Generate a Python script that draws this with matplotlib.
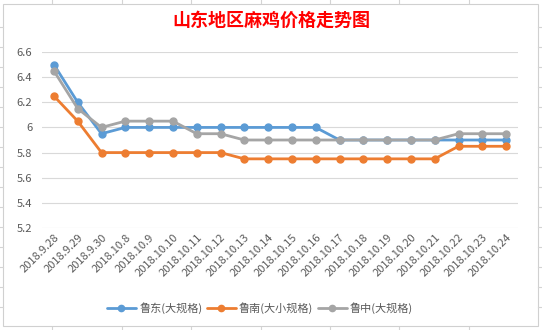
import matplotlib
matplotlib.use("Agg")
import matplotlib.pyplot as plt
from matplotlib.patches import Rectangle
from matplotlib.lines import Line2D

plt.rcParams['font.family'] = ['Noto Sans CJK SC', 'DejaVu Sans']

dates = ["2018.9.28", "2018.9.29", "2018.9.30", "2018.10.8", "2018.10.9", "2018.10.10",
         "2018.10.11", "2018.10.12", "2018.10.13", "2018.10.14", "2018.10.15", "2018.10.16",
         "2018.10.17", "2018.10.18", "2018.10.19", "2018.10.20", "2018.10.21", "2018.10.22",
         "2018.10.23", "2018.10.24"]
ludong = [6.5, 6.2, 5.95, 6.0, 6.0, 6.0, 6.0, 6.0, 6.0, 6.0, 6.0, 6.0,
          5.9, 5.9, 5.9, 5.9, 5.9, 5.9, 5.9, 5.9]
lunan = [6.25, 6.05, 5.8, 5.8, 5.8, 5.8, 5.8, 5.8, 5.75, 5.75, 5.75, 5.75,
         5.75, 5.75, 5.75, 5.75, 5.75, 5.85, 5.85, 5.85]
luzhong = [6.45, 6.15, 6.0, 6.05, 6.05, 6.05, 5.95, 5.95, 5.9, 5.9, 5.9, 5.9,
           5.9, 5.9, 5.9, 5.9, 5.9, 5.95, 5.95, 5.95]
series_names = ["鲁东(大规格)", "鲁南(大小规格)", "鲁中(大规格)"]
colors = ["#5b9bd5", "#ed7d31", "#a5a5a5"]
yticks = [5.2, 5.4, 5.6, 5.8, 6.0, 6.2, 6.4, 6.6]
ytick_labels = ["5.2", "5.4", "5.6", "5.8", "6", "6.2", "6.4", "6.6"]

W, H = 542, 330
fig = plt.figure(figsize=(W / 100, H / 100), dpi=100)
fig.patch.set_facecolor("white")

# spreadsheet background lines
for xp in [52, 122, 191, 261, 330, 399, 469]:
    fig.add_artist(Line2D([xp / W, xp / W], [1 - 3 / H, 1], color="#d4d4d4", lw=0.8))
    fig.add_artist(Line2D([xp / W, xp / W], [0, 3 / H], color="#d4d4d4", lw=0.8))
for yp in [27, 47, 67, 87, 107, 127, 147, 167, 187, 207, 227, 247, 267, 287, 307]:
    fig.add_artist(Line2D([0, 3 / W], [1 - yp / H, 1 - yp / H], color="#d4d4d4", lw=0.8))
    fig.add_artist(Line2D([1 - 4 / W, 1], [1 - yp / H, 1 - yp / H], color="#d4d4d4", lw=0.8))
fig.add_artist(Rectangle((3 / W, 4 / H), 535 / W, 322 / H, transform=fig.transFigure,
                         facecolor="white", edgecolor="#d0d0d0", lw=0.8, zorder=0))

ax = fig.add_axes([42 / W, 102 / H, 476 / W, 176 / H])
ax.set_facecolor("none")
x = list(range(len(dates)))
for vals, name, c in zip([ludong, lunan, luzhong], series_names, colors):
    ax.plot(x, vals, color=c, lw=2.0, marker="o", markersize=5, label=name,
            solid_capstyle="round", solid_joinstyle="round")

ax.set_xlim(-0.5, len(dates) - 0.5)
ax.set_ylim(5.2, 6.6)
ax.set_yticks(yticks)
ax.set_yticklabels(ytick_labels, fontsize=8, color="#595959")
ax.yaxis.grid(True, color="#d9d9d9", lw=0.8)
ax.set_axisbelow(True)
for s in ax.spines.values():
    s.set_visible(False)
ax.tick_params(axis="y", length=0, pad=7)
ax.tick_params(axis="x", length=0, pad=3)
ax.set_xticks(x)
ax.set_xticklabels(dates, rotation=45, ha="right", rotation_mode="anchor",
                   fontsize=8, color="#595959")

fig.text(0.5, 1 - 20 / H, "山东地区麻鸡价格走势图", ha="center", va="center",
         fontsize=13, color="#ff0000", fontweight="bold")

fig.legend(loc="center", bbox_to_anchor=(260 / W, 1 - 308 / H), ncol=3, frameon=False,
           fontsize=8, labelcolor="#595959", handlelength=2.6, handletextpad=0.3,
           columnspacing=0.4, markerscale=0.9)

fig.savefig("out.png", dpi=100)
